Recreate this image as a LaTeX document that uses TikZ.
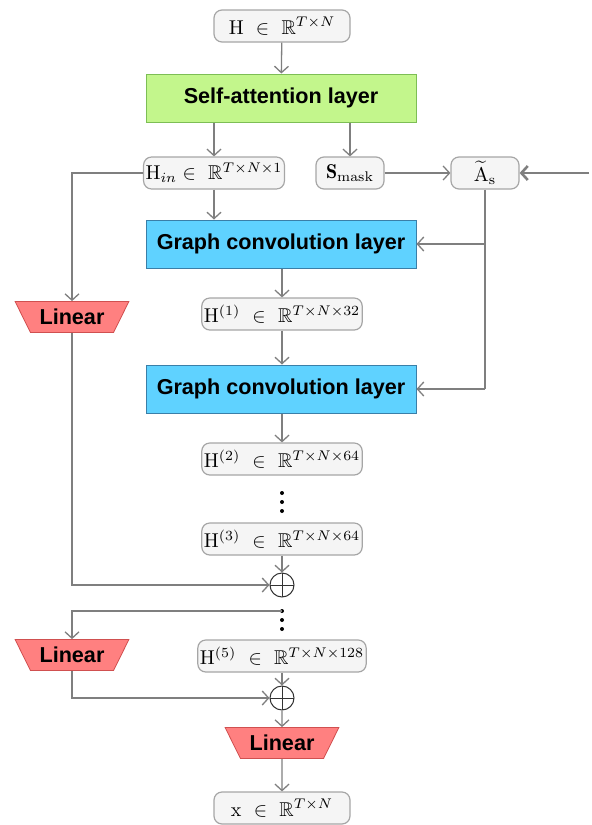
\documentclass[tikz,border=0pt]{standalone}
\usepackage{amsmath,amssymb}
\usepackage{fontspec}
\setsansfont{Liberation Sans}
\usetikzlibrary{arrows.meta,shapes.geometric}

\definecolor{linecol}{HTML}{7F7F7F}
\definecolor{boxline}{HTML}{A6A6A6}
\definecolor{attfill}{HTML}{C3F68C}
\definecolor{attline}{HTML}{7DBE55}
\definecolor{gcfill}{HTML}{5FD2FF}
\definecolor{gcline}{HTML}{3A7FA8}
\definecolor{linfill}{HTML}{FF8080}
\definecolor{linline}{HTML}{D05050}

\begin{document}
\begin{tikzpicture}[x=0.5pt, y=-0.5pt,
  tens/.style={draw=boxline, fill=gray!8, rounded corners=4pt, line width=0.6pt,
               minimum width=68pt, minimum height=16pt, inner sep=1pt},
  layer/.style={draw, line width=0.5pt, minimum width=135pt, minimum height=24pt,
                font=\fontsize{10.8}{13}\sffamily\bfseries},
  lin/.style={draw=linline, fill=linfill, trapezium, shape border rotate=180,
              trapezium stretches=true, trapezium angle=53, line width=0.4pt,
              minimum width=57pt, minimum height=15.5pt, inner sep=0pt,
              font=\fontsize{10.8}{13}\sffamily\bfseries},
  plus/.style={circle, draw=black!80, line width=0.5pt, minimum size=12pt, inner sep=0pt,
               path picture={\draw[black!80, line width=0.5pt]
                 (path picture bounding box.north) -- (path picture bounding box.south)
                 (path picture bounding box.west) -- (path picture bounding box.east);}},
  dot/.style={circle, fill=black, minimum size=2pt, inner sep=0pt},
  arr/.style={draw=linecol, line width=0.65pt, -{Straight Barb[length=3.2pt, width=7pt]}},
  wire/.style={draw=linecol, line width=0.65pt},
]
  \useasboundingbox (0,0) rectangle (591,825);

  % input and attention
  \node[tens] (H)  at (282, 26) {$\mathrm{H}\ \in\ \mathbb{R}^{T\times N}$};
  \node[layer, draw=attline, fill=attfill] (sa) at (281, 98) {Self-attention layer};

  \node[tens] (Hin)   at (214, 173) {$\mathrm{H}_{in}\in\ \mathbb{R}^{T\times N\times 1}$};
  \node[tens, minimum width=34pt] (Smask) at (350, 173) {$\mathbf{S}_{\mathrm{mask}}$};
  \node[tens, minimum width=34pt] (As)    at (485, 173) {$\widetilde{\mathrm{A}}_{\mathrm{s}}$};
  \coordinate (feed) at (589, 173);

  % graph convolutions
  \node[layer, draw=gcline, fill=gcfill] (gc1) at (281, 244) {Graph convolution layer};
  \node[tens] (h1) at (282, 314) {$\mathrm{H}^{(1)}\ \in\ \mathbb{R}^{T\times N\times 32}$};
  \node[layer, draw=gcline, fill=gcfill] (gc2) at (281, 389) {Graph convolution layer};
  \node[tens] (h2) at (282, 459) {$\mathrm{H}^{(2)}\ \in\ \mathbb{R}^{T\times N\times 64}$};
  \foreach \i/\y in {a/493, b/502, c/511}
    \node[dot] (da\i) at (282, \y) {};
  \node[tens] (h3) at (282, 539) {$\mathrm{H}^{(3)}\ \in\ \mathbb{R}^{T\times N\times 64}$};
  \node[plus] (p1) at (282, 585) {};
  \foreach \i/\y in {a/611, b/620, c/629}
    \node[dot] (db\i) at (282, \y) {};
  \node[tens] (h5) at (282, 656) {$\mathrm{H}^{(5)}\ \in\ \mathbb{R}^{T\times N\times 128}$};
  \node[plus] (p2) at (282, 698) {};

  % skip branches and output
  \node[lin] (lin1) at (72, 317) {Linear};
  \node[lin] (lin2) at (72, 655) {Linear};
  \node[lin] (lin3) at (282, 743) {Linear};
  \node[tens] (out) at (282, 808) {$\mathrm{x}\ \in\ \mathbb{R}^{T\times N}$};

  % connectors
  \draw[arr] (H) -- (sa);
  \draw[arr] (Hin |- sa.south) -- (Hin);
  \draw[arr] (Smask |- sa.south) -- (Smask);
  \draw[arr] (Smask) -- (As);
  \draw[arr, line width=1.3pt] (feed) -- (As);
  \draw[wire] (As.south) -- (As |- gc2);
  \draw[arr] (As |- gc1) -- (gc1.east);
  \draw[arr] (As |- gc2) -- (gc2.east);
  \draw[arr] (Hin.west) -| (lin1.north);
  \draw[arr] (Hin.south) -- (Hin |- gc1.north);
  \draw[arr] (h1 |- gc1.south) -- (h1);
  \draw[arr] (h1) -- (h1 |- gc2.north);
  \draw[arr] (h2 |- gc2.south) -- (h2);
  \draw[arr] (h3) -- (p1);
  \draw[arr] (lin1.south) |- (p1.west);
  \draw[arr] (dba.center) -| (lin2.north);
  \draw[arr] (h5) -- (p2);
  \draw[arr] (lin2.south) |- (p2.west);
  \draw[arr] (p2) -- (lin3);
  \draw[arr] (lin3) -- (out);
\end{tikzpicture}
\end{document}
